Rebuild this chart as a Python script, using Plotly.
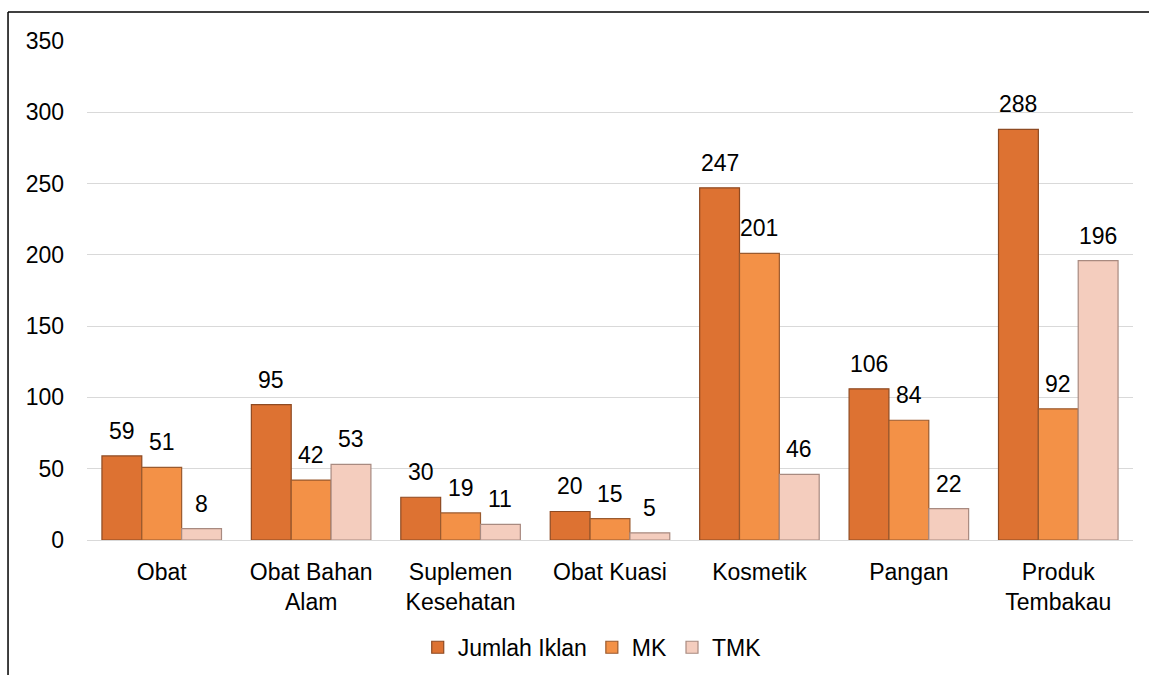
import plotly.graph_objects as go

categories = ["Obat", "Obat Bahan<br>Alam", "Suplemen<br>Kesehatan", "Obat Kuasi",
              "Kosmetik", "Pangan", "Produk<br>Tembakau"]
jumlah_iklan = [59, 95, 30, 20, 247, 106, 288]
mk = [51, 42, 19, 15, 201, 84, 92]
tmk = [8, 53, 11, 5, 46, 22, 196]

series = [
    ("Jumlah Iklan", jumlah_iklan, "#DD7232", "#8E4A22"),
    ("MK", mk, "#F39147", "#9A5A2E"),
    ("TMK", tmk, "#F4CDBE", "#A88A80"),
]

font = "Liberation Sans, Arial, sans-serif"
size = 23

W, H = 1149, 675
margin = dict(l=87, r=16, t=41, b=135)
bargap = 0.2
# pixel width of one bar inside a category slot
slot_px = (W - margin["l"] - margin["r"]) / len(categories)
bar_px = slot_px * (1 - bargap) / len(series)

fig = go.Figure()
annotations = []
for k, (name, vals, color, edge) in enumerate(series):
    fig.add_trace(go.Bar(
        name=name, x=categories, y=vals,
        marker=dict(color=color, line=dict(color=edge, width=1.2)),
    ))
    # value labels above each bar
    offset = (k - (len(series) - 1) / 2) * bar_px
    for cat, v in zip(categories, vals):
        annotations.append(dict(
            x=cat, y=v, xref="x", yref="y", text=str(v), showarrow=False,
            xanchor="center", yanchor="bottom", xshift=offset, yshift=10,
            font=dict(family=font, size=size, color="#000000"),
        ))

fig.update_layout(
    width=W, height=H,
    paper_bgcolor="white", plot_bgcolor="white",
    barmode="group", bargap=bargap, bargroupgap=0,
    margin=dict(**margin, autoexpand=False),
    font=dict(family=font, size=size, color="#000000"),
    showlegend=True,
    legend=dict(orientation="h", x=0.483, xanchor="center", y=-0.215, yanchor="middle",
                font=dict(size=size), itemwidth=30, traceorder="normal"),
    xaxis=dict(showline=False, ticks="", tickfont=dict(size=size), ticklabelstandoff=16),
    yaxis=dict(range=[0, 350], dtick=50, showgrid=True, gridcolor="#D9D9D9", gridwidth=1,
               zeroline=True, zerolinecolor="#D9D9D9", zerolinewidth=1,
               showline=False, ticks="", tickfont=dict(size=size), ticklabelstandoff=22),
    annotations=annotations,
    shapes=[
        dict(type="line", xref="paper", yref="paper", x0=-0.0755, x1=1.02, y0=1.058, y1=1.058,
             line=dict(color="#000000", width=1.5)),
        dict(type="line", xref="paper", yref="paper", x0=-0.0755, x1=-0.0755, y0=1.058, y1=-0.3,
             line=dict(color="#000000", width=1.5)),
    ],
)

fig.write_html("out.html")
